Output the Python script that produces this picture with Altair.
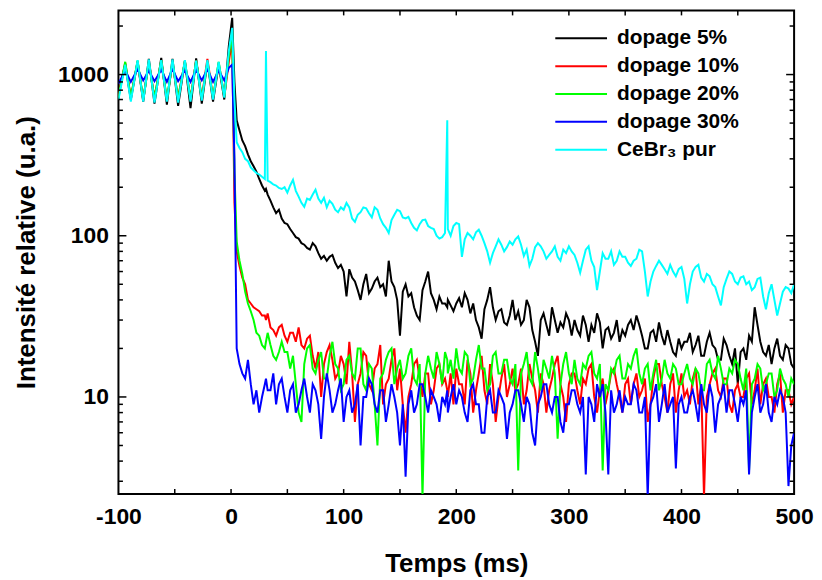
import altair as alt
import pandas as pd

FONT = "Liberation Sans, Arial, Helvetica, sans-serif"

SERIES = ["dopage 5%", "dopage 10%", "dopage 20%", "dopage 30%", "CeBr\u2083 pur"]
COLORS = ["#000000", "#ff0000", "#00ff00", "#0000ff", "#00ffff"]

# sampling times (ms): oscillating pre-trigger part, then a 2.5 ms grid (+ the two spike instants)
T_PRE = [-100, -94, -89, -83, -78, -73, -68, -62, -57, -52, -47, -41, -36, -31, -26, -21, -16, -11, -6, -2, 1, 3]
T_POST = sorted(set([5 + 2.5 * i for i in range(199)] + [31, 192]))
T = T_PRE + T_POST

DOP5 = [760, 1150, 700, 1200, 680, 1250, 660, 1270, 650, 1250, 640, 1220, 620, 1260, 660, 1200, 680, 1150, 700, 1500, 2250, 900,
        520, 450, 390, 360, 320, 290, 270, 250, 225, 205, 190, 195, 180, 165, 150, 138, 145, 128, 120, 118, 110,
        104, 98, 96, 90, 88, 84, 82, 90, 86, 78, 72, 75, 70, 74, 76, 68, 63, 66, 60, 42,
        62, 55, 52, 46, 40, 50, 58, 44, 47, 52, 55, 48, 50, 42, 70, 52, 48, 40, 24, 45,
        50, 42, 44, 36, 32, 30, 46, 52, 60, 44, 40, 35, 42, 38, 38, 36, 40, 37, 34, 38, 41,
        36, 44, 40, 33, 38, 30, 27, 23, 35, 40, 48, 36, 30, 34, 35, 29, 28, 32, 40, 30,
        34, 28, 30, 40, 36, 26, 22, 18, 30, 33, 28, 24, 36, 30, 25, 29, 27, 33, 30, 24,
        30, 26, 24, 32, 28, 22, 28, 25, 33, 29, 20, 26, 27, 23, 25, 30, 22, 26, 24, 28,
        30, 26, 32, 28, 24, 20, 20, 25, 26, 22, 29, 24, 21, 26, 22, 19, 18, 23, 20, 22,
        22, 25, 19, 21, 24, 18, 18, 22, 25, 21, 20, 17, 17, 23, 21, 18, 16, 20, 12, 19,
        20, 17, 24, 22, 36, 28, 22, 19, 18, 21, 16, 20, 23, 18, 17, 21, 20, 16, 15]

DOP10 = [740, 1180, 720, 1200, 700, 1190, 720, 1210, 700, 1180, 720, 1200, 710, 1220, 720, 1250, 720, 1180, 730, 1200, 1650, 160,
         80, 65, 55, 50, 40, 38, 36, 35, 34, 32, 32, 30, 33, 27, 26, 24, 27, 28, 24, 22, 25,
         25, 22, 27, 21, 20, 23, 24, 18, 15, 19, 10, 16, 19, 21, 17, 13, 14, 18, 16, 12,
         22, 14, 7, 12, 14, 19, 18, 12, 11, 15, 16, 21, 9, 12, 13, 17, 20, 11, 15, 9,
         6, 10, 12, 16, 17, 13, 10, 14, 14, 9, 11, 15, 16, 12, 13, 11, 10, 14, 9, 15, 12,
         12, 9, 17, 14, 8, 11, 14, 18, 11, 9, 16, 12, 7, 10, 13, 16, 10, 12, 15, 11,
         12, 15, 9, 11, 16, 13, 11, 8, 14, 12, 8, 11, 13, 16, 18, 12, 10, 7, 12, 14,
         14, 11, 9, 13, 12, 15, 16, 10, 8, 11, 13, 9, 11, 14, 15, 12, 10, 8, 12, 13,
         9, 12, 14, 10, 11, 13, 7, 9, 13, 16, 16, 12, 10, 8, 12, 14, 8, 11, 14, 10,
         11, 9, 13, 15, 9, 12, 2.4, 10, 12, 14, 15, 11, 10, 13, 13, 9, 8, 11, 12, 10,
         10, 13, 14, 9, 11, 15, 9, 12, 13, 10, 10, 8, 12, 14, 8, 11, 11, 9, 10]

DOP20 = [720, 1200, 720, 1220, 700, 1200, 710, 1230, 700, 1200, 710, 1210, 700, 1220, 710, 1200, 720, 1200, 730, 1300, 1850, 250,
         92, 70, 58, 45, 38, 34, 30, 25, 24, 21, 20, 22, 25, 21, 18, 17, 19, 22, 19, 19, 15,
         18, 12, 8, 7, 16, 20, 21, 15, 14, 17, 19, 13, 13, 18, 22, 16, 15, 11, 12, 17,
         18, 14, 13, 20, 20, 12, 11, 16, 15, 9, 5, 13, 14, 17, 19, 20, 12, 15, 17, 13,
         14, 18, 20, 13, 12, 16, 2.4, 14, 18, 15, 13, 19, 16, 12, 19, 17, 14, 17, 13, 20, 15,
         14, 19, 18, 12, 13, 17, 21, 15, 15, 11, 12, 18, 19, 14, 14, 17, 17, 13, 12, 16,
         3.5, 14, 16, 19, 13, 12, 19, 15, 11, 17, 15, 13, 18, 14, 5.5, 12, 16, 19, 14, 12,
         17, 13, 12, 16, 15, 18, 19, 14, 13, 16, 3.5, 12, 11, 15, 14, 17, 18, 13, 13, 16,
         15, 18, 20, 14, 12, 15, 16, 11, 14, 17, 11, 13, 17, 14, 13, 16, 15, 12, 12, 14,
         16, 13, 12, 15, 14, 11, 11, 16, 17, 14, 13, 18, 15, 12, 12, 15, 14, 17, 16, 13,
         11, 15, 3.5, 12, 13, 16, 15, 11, 12, 14, 14, 10, 11, 15, 13, 12, 10, 13, 12]

DOP30 = [880, 1060, 900, 1080, 920, 1060, 910, 1070, 900, 1080, 910, 1060, 900, 1070, 920, 1080, 900, 1060, 920, 1100, 1150, 300,
         20, 16, 14, 13, 17, 12, 9, 11, 8, 10, 12, 13, 11, 11, 14, 9, 12, 13, 10, 8, 11,
         12, 8, 9, 11, 13, 10, 8, 12, 11, 9, 5.5, 10, 14, 11, 8, 9, 11, 13, 7, 10,
         11, 8, 9, 12, 5, 10, 10, 13, 12, 9, 8, 11, 11, 7, 9, 12, 10, 8, 5, 9,
         3.2, 9, 11, 8, 9, 12, 12, 10, 8, 11, 10, 9, 7, 10, 9, 11, 8, 10, 12, 9, 11,
         10, 8, 7, 11, 12, 9, 9, 6, 6, 10, 11, 8, 8, 11, 10, 9, 5.5, 8, 9, 11,
         11, 9, 7, 10, 9, 6, 5, 9, 10, 12, 12, 9, 8, 10, 10, 7, 6, 9, 9, 11,
         11, 9, 8, 10, 3.3, 10, 9, 7, 12, 10, 12, 8, 3.3, 11, 8, 9, 11, 8, 10, 9,
         9, 12, 11, 8, 8, 10, 2.4, 9, 10, 12, 7, 9, 12, 8, 9, 10, 3.6, 9, 10, 8,
         8, 10, 11, 9, 7, 12, 9, 8, 12, 10, 6, 9, 10, 12, 8, 11, 11, 9, 7, 10,
         9, 11, 3.3, 8, 10, 12, 8, 9, 12, 8, 7, 10, 9, 11, 10, 8, 2.8, 5, 6]

CEBR3 = [700, 1150, 680, 1230, 680, 1240, 670, 1230, 680, 1240, 670, 1230, 680, 1220, 690, 1230, 700, 1200, 720, 1400, 1950, 700,
         380, 350, 330, 300, 290, 265, 255, 245, 240, 232, 225, 1400, 220, 215, 208, 205, 198, 195, 200, 185, 205,
         222, 190, 175, 160, 151, 170, 167, 180, 193, 170, 160, 172, 150, 165, 158, 145, 140, 150, 145, 160,
         150, 128, 122, 135, 140, 150, 148, 138, 130, 150, 145, 128, 118, 112, 104, 125, 135, 145, 142, 130,
         128, 131, 120, 112, 108, 118, 125, 126, 115, 112, 110, 100, 96, 98, 104, 520, 110, 100, 115, 120, 118,
         74, 95, 104, 100, 95, 105, 109, 100, 90, 80, 68, 78, 86, 95, 88, 80, 85, 92, 88, 95,
         99, 88, 75, 82, 65, 72, 85, 90, 86, 80, 72, 76, 80, 86, 74, 70, 82, 78, 86, 80,
         76, 68, 59, 70, 82, 86, 70, 64, 46, 60, 78, 72, 72, 80, 66, 70, 80, 74, 74, 68,
         65, 70, 72, 82, 80, 60, 42, 52, 60, 65, 70, 66, 62, 58, 66, 60, 56, 62, 64, 54,
         38, 50, 60, 64, 66, 55, 52, 58, 56, 50, 48, 42, 37, 48, 54, 60, 58, 52, 50, 55,
         56, 50, 52, 46, 48, 54, 55, 42, 35, 44, 50, 40, 32, 38, 45, 48, 47, 44, 50]

X_LABELS = [-100, 0, 100, 200, 300, 400, 500]
X_TICKS = [-50, 0, 50, 100, 150, 200, 250, 300, 350, 400, 450]
Y_LABELS = [10, 100, 1000]
Y_MINOR = [3, 4, 5, 6, 7, 8, 9, 20, 30, 40, 50, 60, 70, 80, 90,
           200, 300, 400, 500, 600, 700, 800, 900, 2000]

W, H = 679, 486

frames = []
for name, vals in zip(SERIES, [DOP5, DOP10, DOP20, DOP30, CEBR3]):
    assert len(vals) == len(T), (name, len(vals), len(T))
    frames.append(pd.DataFrame({"t": T, "v": vals, "series": name}))
df = pd.concat(frames, ignore_index=True)

xs = alt.Scale(domain=[-100, 500], nice=False, zero=False)
ys = alt.Scale(type="log", domain=[2.5, 2500], nice=False)
cs = alt.Scale(domain=SERIES, range=COLORS)

x_axis = alt.Axis(values=X_LABELS, labelExpr="'' + datum.value", title="Temps (ms)", grid=False, ticks=False,
                  tickSize=0, domain=False, labelFont=FONT, labelFontSize=23, labelFontWeight="bold",
                  labelColor="black", labelPadding=12, labelFlush=False, titleFont=FONT, titleFontSize=26,
                  titleFontWeight="bold", titleColor="black", titleY=78, titleBaseline="alphabetic")
y_axis = alt.Axis(values=Y_LABELS, format="d", title="Intensit\u00e9 relative (u.a.)", grid=False, ticks=False,
                  tickSize=0, domain=False, labelFont=FONT, labelFontSize=23, labelFontWeight="bold",
                  labelColor="black", labelPadding=10, labelFlush=False, titleFont=FONT, titleFontSize=26,
                  titleFontWeight="bold", titleColor="black", titleX=-84, titleBaseline="alphabetic")
legend = alt.Legend(title=None, orient="none", legendX=438, legendY=14, symbolType="stroke", symbolSize=2704,
                    symbolStrokeWidth=2, labelFont=FONT, labelFontSize=21, labelFontWeight="bold",
                    labelColor="black", labelOffset=9, rowPadding=0, clipHeight=28, padding=0, labelLimit=400)

layers = []
for name in SERIES:
    layers.append(
        alt.Chart(df).transform_filter(alt.datum.series == name)
        .mark_line(clip=True, strokeWidth=2)
        .encode(x=alt.X("t:Q", scale=xs, axis=x_axis),
                y=alt.Y("v:Q", scale=ys, axis=y_axis),
                color=alt.Color("series:N", scale=cs, legend=legend))
    )

xt = pd.DataFrame({"t": X_TICKS})
ymaj = pd.DataFrame({"v": Y_LABELS})
ymin = pd.DataFrame({"v": Y_MINOR})
tick_style = dict(color="black", strokeWidth=1.5)

layers += [
    alt.Chart(xt).mark_rule(**tick_style).encode(x=alt.X("t:Q", scale=xs, axis=x_axis),
                                                 y=alt.value(H - 5), y2=alt.value(H)),
    alt.Chart(xt).mark_rule(**tick_style).encode(x=alt.X("t:Q", scale=xs, axis=x_axis),
                                                 y=alt.value(0), y2=alt.value(5)),
    alt.Chart(ymaj).mark_rule(**tick_style).encode(y=alt.Y("v:Q", scale=ys, axis=y_axis),
                                                   x=alt.value(0), x2=alt.value(8)),
    alt.Chart(ymaj).mark_rule(**tick_style).encode(y=alt.Y("v:Q", scale=ys, axis=y_axis),
                                                   x=alt.value(W - 8), x2=alt.value(W)),
    alt.Chart(ymin).mark_rule(**tick_style).encode(y=alt.Y("v:Q", scale=ys, axis=y_axis),
                                                   x=alt.value(0), x2=alt.value(4.5)),
    alt.Chart(ymin).mark_rule(**tick_style).encode(y=alt.Y("v:Q", scale=ys, axis=y_axis),
                                                   x=alt.value(W - 4.5), x2=alt.value(W)),
]

chart = (
    alt.layer(*layers)
    .properties(width=W, height=H, autosize=alt.AutoSizeParams(type="none"),
                padding={"left": 111, "top": 1, "right": 20, "bottom": 86}, background="white")
    .configure_view(stroke="black", strokeWidth=2)
)

chart.save("out.html", embed_options={"renderer": "svg", "actions": False})
